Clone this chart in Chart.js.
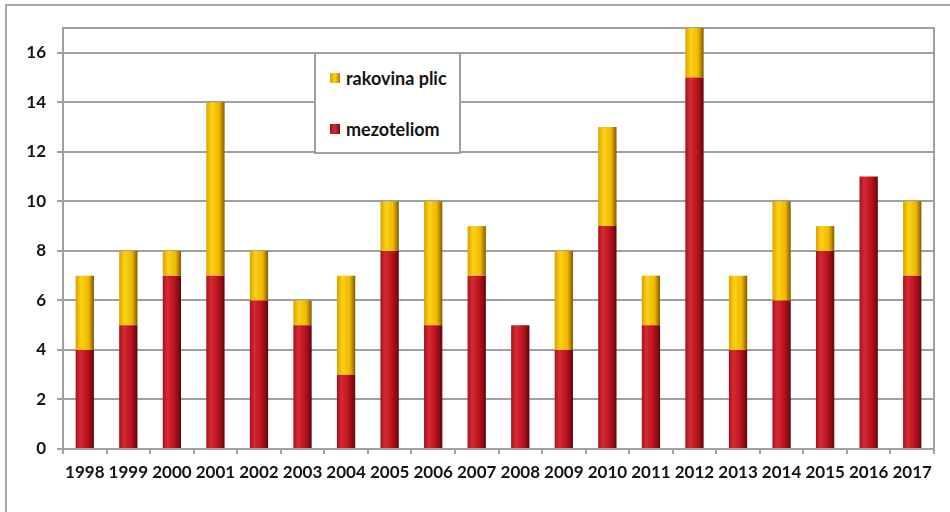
<!DOCTYPE html>
<html>
<head>
<meta charset="utf-8">
<script src="https://cdn.jsdelivr.net/npm/chart.js@4/dist/chart.umd.min.js"></script>
<style>
  html, body { margin: 0; padding: 0; background: #fff; }
  #wrap { position: relative; width: 950px; height: 512px; overflow: hidden; }
  #frame { position: absolute; left: 5px; top: 4px; width: 960px; height: 520px;
           border-left: 2px solid #a6a6a6; border-top: 2px solid #a6a6a6; }
  canvas { position: absolute; left: 0; top: 0; }
  #legend { position: absolute; left: 314px; top: 52px; width: 143px; height: 98px;
            border: 2px solid #a0a0a0; background: #fff;
            font-family: Lato, "Open Sans", sans-serif; font-weight: bold; font-size: 18px; color: #141414; }
  .item { position: absolute; left: 14px; display: flex; align-items: center; white-space: nowrap; }
  .sw { width: 10px; height: 10px; margin-right: 6px; }
</style>
</head>
<body>
<div id="wrap">
  <div id="frame"></div>
  <canvas id="c" width="950" height="512"></canvas>
  <div id="legend">
    <div class="item" style="top:13px"><span class="sw" style="background:linear-gradient(90deg,#d9a300,#fcd116,#b08000)"></span>rakovina plic</div>
    <div class="item" style="top:64px"><span class="sw" style="background:linear-gradient(90deg,#a5111c,#d42a33,#7a0a10)"></span>mezoteliom</div>
  </div>
</div>
<script>
const years = ['1998','1999','2000','2001','2002','2003','2004','2005','2006','2007',
               '2008','2009','2010','2011','2012','2013','2014','2015','2016','2017'];
const mezoteliom    = [4, 5, 7, 7, 6, 5, 3, 8, 5, 7, 5, 4, 9, 5, 15, 4, 6, 8, 11, 7];
const rakovinaPlic  = [3, 3, 1, 7, 2, 1, 4, 2, 5, 2, 0, 4, 4, 2, 2, 3, 4, 1, 0, 3];
const yTicks = [0, 2, 4, 6, 8, 10, 12, 14, 16];

// Horizontal gradient across each bar for a rounded, cylinder-like look
function barGradient(stops) {
  return function (ctx) {
    const chart = ctx.chart;
    const area = chart.chartArea;
    if (!area || ctx.dataIndex === undefined) return stops[1][1];
    const xs = chart.scales.x;
    const cx = xs.getPixelForValue(ctx.dataIndex);
    const w = (xs.width / years.length) * 0.42;
    const g = chart.ctx.createLinearGradient(cx - w / 2, 0, cx + w / 2, 0);
    stops.forEach(s => g.addColorStop(s[0], s[1]));
    return g;
  };
}

const redStops = [[0, '#a5111c'], [0.25, '#d42a33'], [0.6, '#c0141f'], [0.85, '#8c0c14'], [1, '#5a0508']];
const yellowStops = [[0, '#d9a300'], [0.3, '#fcd116'], [0.7, '#efb800'], [0.88, '#b08000'], [1, '#7a5a00']];

// Box around the plot area
const plotFrame = {
  id: 'plotFrame',
  beforeDatasetsDraw(chart) {
    const { ctx, chartArea: a } = chart;
    ctx.save();
    ctx.strokeStyle = '#a0a0a0';
    ctx.lineWidth = 2;
    ctx.strokeRect(a.left, a.top, a.right - a.left, a.bottom - a.top);
    ctx.restore();
  }
};

new Chart(document.getElementById('c'), {
  type: 'bar',
  data: {
    labels: years,
    datasets: [
      { label: 'mezoteliom', data: mezoteliom, backgroundColor: barGradient(redStops),
        barPercentage: 0.42, categoryPercentage: 1 },
      { label: 'rakovina plic', data: rakovinaPlic, backgroundColor: barGradient(yellowStops),
        barPercentage: 0.42, categoryPercentage: 1 }
    ]
  },
  options: {
    responsive: false,
    animation: false,
    layout: { padding: { left: 0, top: 28, right: 16, bottom: 0 } },
    plugins: { legend: { display: false }, tooltip: { enabled: false } },
    scales: {
      x: {
        stacked: true,
        afterFit(s) { s.height = 63; },
        grid: { display: true, drawOnChartArea: false, offset: true, tickLength: 5, color: '#a0a0a0', lineWidth: 2 },
        border: { color: '#a0a0a0', width: 2 },
        ticks: { color: '#141414', padding: 8, maxRotation: 0,
                 font: { family: 'Lato, "Open Sans", sans-serif', weight: 'bold', size: 17 } }
      },
      y: {
        stacked: true,
        min: 0, max: 17,
        afterFit(s) { s.width = 63; },
        afterBuildTicks(s) { s.ticks = yTicks.map(v => ({ value: v })); },
        grid: { color: '#a0a0a0', lineWidth: 2, tickLength: 6 },
        border: { color: '#a0a0a0', width: 2 },
        ticks: { color: '#141414', padding: 11,
                 font: { family: 'Lato, "Open Sans", sans-serif', weight: 'bold', size: 17 } }
      }
    }
  },
  plugins: [plotFrame]
});
</script>
</body>
</html>
